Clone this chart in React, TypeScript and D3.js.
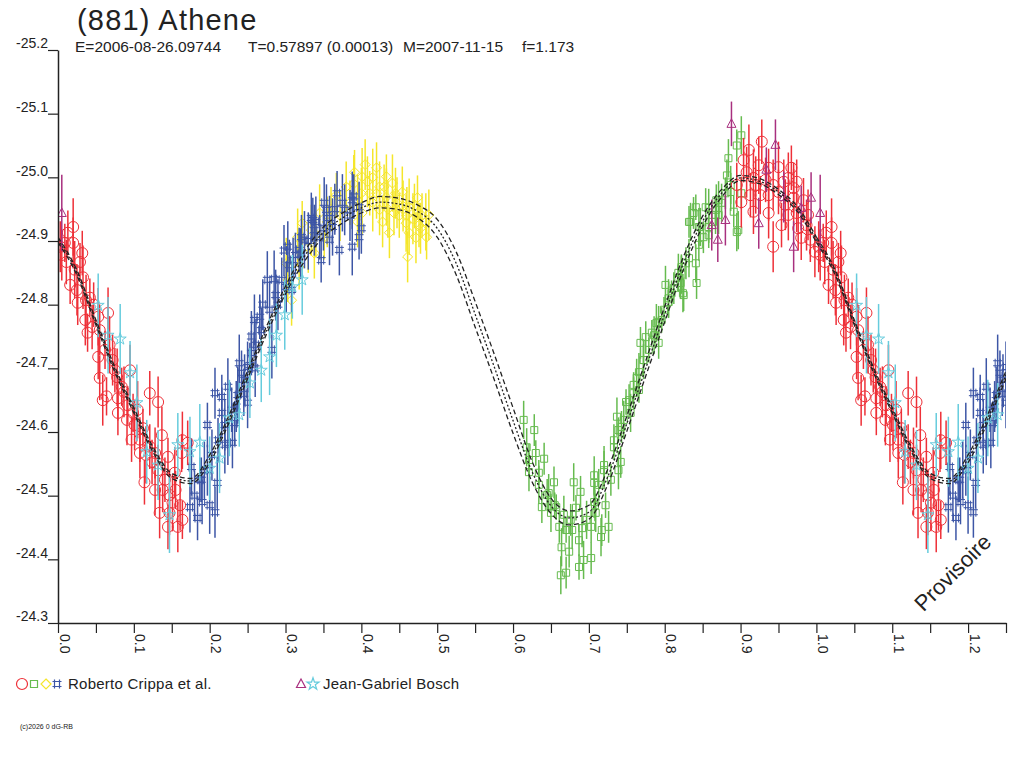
import { useEffect, useRef } from "react";
import * as d3 from "d3";

// phase, reduced magnitude, error
type Pt = [number, number, number];

const redPoints: Pt[] = [
    [0.003, -24.891, 0.04], [0.013, -24.913, 0.035], [0.02, -24.922, 0.045], [0.009, -24.897, 0.03],
    [0.02, -24.897, 0.04], [0.032, -24.881, 0.035], [0.016, -24.831, 0.03], [0.025, -24.823, 0.04],
    [0.033, -24.843, 0.05], [0.026, -24.803, 0.035], [0.042, -24.811, 0.03], [0.036, -24.776, 0.04],
    [0.045, -24.765, 0.035], [0.039, -24.756, 0.03], [0.053, -24.781, 0.045], [0.066, -24.787, 0.04],
    [0.053, -24.718, 0.035], [0.062, -24.729, 0.03], [0.072, -24.713, 0.04], [0.055, -24.685, 0.035],
    [0.059, -24.65, 0.04], [0.064, -24.656, 0.03], [0.078, -24.686, 0.045], [0.079, -24.653, 0.035],
    [0.084, -24.671, 0.03], [0.095, -24.697, 0.04], [0.079, -24.63, 0.035], [0.091, -24.619, 0.04],
    [0.099, -24.63, 0.03], [0.105, -24.635, 0.045], [0.121, -24.661, 0.035], [0.132, -24.647, 0.04],
    [0.097, -24.588, 0.035], [0.112, -24.606, 0.03], [0.108, -24.567, 0.04], [0.121, -24.577, 0.035],
    [0.128, -24.567, 0.04], [0.137, -24.595, 0.045], [0.114, -24.521, 0.035], [0.128, -24.509, 0.04],
    [0.145, -24.561, 0.03], [0.141, -24.525, 0.035], [0.154, -24.536, 0.04], [0.164, -24.587, 0.045],
    [0.171, -24.583, 0.035], [0.163, -24.567, 0.03], [0.134, -24.473, 0.04], [0.145, -24.451, 0.035],
    [0.158, -24.451, 0.04], [0.164, -24.462, 0.03], [0.151, -24.489, 0.045], [0.147, -24.473, 0.035],
    [0.005, -24.878, 0.04], [0.011, -24.867, 0.035], [0.022, -24.855, 0.045], [0.029, -24.867, 0.03],
    [0.037, -24.807, 0.04], [0.047, -24.8, 0.035], [0.055, -24.76, 0.04], [0.068, -24.737, 0.045],
    [0.075, -24.697, 0.035], [0.087, -24.663, 0.04], [0.092, -24.642, 0.03], [0.101, -24.611, 0.04],
    [0.108, -24.588, 0.035], [0.116, -24.564, 0.045], [0.124, -24.553, 0.035], [0.132, -24.54, 0.04],
    [0.138, -24.509, 0.035], [0.147, -24.501, 0.04], [0.155, -24.509, 0.03], [0.161, -24.485, 0.04],
    [0.928, -25.056, 0.035], [0.911, -25.043, 0.04], [0.904, -25.027, 0.035], [0.924, -25.019, 0.045],
    [0.937, -25.015, 0.03], [0.95, -25.016, 0.04], [0.967, -25.015, 0.035], [0.963, -24.999, 0.04],
    [0.974, -24.993, 0.035], [0.917, -24.999, 0.045], [0.913, -24.972, 0.035], [0.901, -24.961, 0.04],
    [0.926, -24.972, 0.03], [0.937, -24.972, 0.04], [0.95, -24.977, 0.035], [0.959, -24.957, 0.04],
    [0.97, -24.968, 0.045], [0.917, -24.946, 0.035], [0.937, -24.944, 0.04], [0.954, -24.925, 0.035],
    [0.974, -24.944, 0.03], [0.943, -24.891, 0.04], [0.976, -24.92, 0.035], [0.998, -24.883, 0.04],
    [0.992, -24.902, 0.035], [0.987, -24.925, 0.04], [0.895, -24.988, 0.035], [0.908, -25.008, 0.04],
    [0.92, -24.988, 0.045], [0.933, -24.996, 0.035], [0.943, -24.988, 0.04], [0.957, -24.993, 0.035],
    [0.97, -24.983, 0.04], [0.983, -24.964, 0.035], [0.989, -24.941, 0.04], [0.98, -24.905, 0.035],
    [0.963, -24.941, 0.04],
];

const greenPoints: Pt[] = [
    [0.614, -24.619, 0.03], [0.628, -24.603, 0.025], [0.618, -24.576, 0.03], [0.63, -24.567, 0.02],
    [0.641, -24.558, 0.025], [0.621, -24.537, 0.03], [0.634, -24.536, 0.02], [0.654, -24.521, 0.025],
    [0.647, -24.504, 0.03], [0.638, -24.482, 0.025], [0.657, -24.482, 0.02], [0.65, -24.473, 0.03],
    [0.661, -24.451, 0.025], [0.67, -24.446, 0.02], [0.664, -24.419, 0.03], [0.674, -24.412, 0.025],
    [0.663, -24.375, 0.03], [0.67, -24.379, 0.025], [0.68, -24.521, 0.03], [0.689, -24.506, 0.025],
    [0.683, -24.481, 0.02], [0.678, -24.446, 0.03], [0.687, -24.43, 0.025], [0.691, -24.449, 0.03],
    [0.703, -24.451, 0.025], [0.693, -24.399, 0.03], [0.703, -24.402, 0.025], [0.687, -24.388, 0.02],
    [0.709, -24.473, 0.03], [0.707, -24.49, 0.025], [0.707, -24.52, 0.02], [0.707, -24.532, 0.03],
    [0.717, -24.446, 0.025], [0.716, -24.435, 0.03], [0.726, -24.451, 0.025], [0.722, -24.485, 0.02],
    [0.72, -24.548, 0.03], [0.729, -24.525, 0.025], [0.733, -24.576, 0.02], [0.739, -24.54, 0.03],
    [0.742, -24.553, 0.025], [0.737, -24.624, 0.03], [0.743, -24.608, 0.025], [0.749, -24.647, 0.02],
    [0.755, -24.63, 0.03], [0.759, -24.661, 0.025], [0.766, -24.666, 0.02], [0.763, -24.685, 0.03],
    [0.768, -24.74, 0.025], [0.772, -24.713, 0.03], [0.775, -24.749, 0.025], [0.783, -24.756, 0.02],
    [0.789, -24.771, 0.03], [0.792, -24.74, 0.025], [0.796, -24.776, 0.02], [0.801, -24.831, 0.03],
    [0.805, -24.804, 0.025], [0.809, -24.818, 0.02], [0.818, -24.85, 0.03], [0.821, -24.834, 0.025],
    [0.822, -24.859, 0.02], [0.824, -24.818, 0.03], [0.828, -24.865, 0.025], [0.841, -24.865, 0.03],
    [0.842, -24.834, 0.025], [0.834, -24.93, 0.03], [0.838, -24.944, 0.025], [0.841, -24.953, 0.02],
    [0.845, -24.922, 0.03], [0.851, -24.906, 0.025], [0.854, -24.953, 0.03], [0.858, -24.922, 0.025],
    [0.867, -24.941, 0.03], [0.868, -24.964, 0.025], [0.875, -24.96, 0.03], [0.88, -24.975, 0.025],
    [0.887, -24.988, 0.03], [0.891, -24.946, 0.025], [0.895, -24.914, 0.03], [0.825, -24.815, 0.025],
    [0.822, -24.847, 0.03], [0.832, -24.93, 0.025], [0.847, -24.922, 0.03], [0.862, -24.93, 0.025],
    [0.858, -24.952, 0.03], [0.868, -24.949, 0.025], [0.871, -24.964, 0.03], [0.882, -25.003, 0.025],
    [0.884, -25.03, 0.03], [0.895, -25.05, 0.025], [0.901, -25.066, 0.03], [0.897, -24.917, 0.03],
    [0.901, -24.975, 0.025], [0.887, -24.977, 0.03], [0.713, -24.517, 0.025], [0.72, -24.54, 0.03],
    [0.733, -24.587, 0.025], [0.739, -24.603, 0.02], [0.746, -24.619, 0.03], [0.753, -24.65, 0.025],
    [0.759, -24.674, 0.02], [0.766, -24.694, 0.03], [0.772, -24.713, 0.025], [0.779, -24.729, 0.02],
    [0.786, -24.752, 0.03], [0.792, -24.773, 0.025], [0.799, -24.792, 0.02], [0.805, -24.81, 0.03],
    [0.812, -24.826, 0.025], [0.818, -24.842, 0.02], [0.832, -24.873, 0.03], [0.845, -24.894, 0.025],
    [0.858, -24.909, 0.02], [0.871, -24.941, 0.03], [0.621, -24.556, 0.025], [0.634, -24.517, 0.03],
    [0.645, -24.501, 0.025], [0.655, -24.485, 0.02], [0.667, -24.47, 0.03], [0.676, -24.462, 0.025],
    [0.697, -24.462, 0.03], [0.708, -24.485, 0.025],
];

const yellowPoints: Pt[] = [
    [0.42, -25.015, 0.04], [0.391, -25.008, 0.035], [0.401, -25.001, 0.045], [0.408, -24.993, 0.04],
    [0.433, -25.001, 0.035], [0.424, -24.985, 0.04], [0.441, -24.991, 0.045], [0.367, -24.972, 0.035],
    [0.395, -24.964, 0.04], [0.411, -24.975, 0.035], [0.433, -24.969, 0.045], [0.454, -24.977, 0.04],
    [0.474, -24.968, 0.035], [0.447, -24.96, 0.04], [0.463, -24.953, 0.045], [0.401, -24.944, 0.035],
    [0.424, -24.949, 0.04], [0.443, -24.944, 0.035], [0.489, -24.941, 0.04], [0.459, -24.928, 0.045],
    [0.476, -24.925, 0.035], [0.437, -24.913, 0.04], [0.463, -24.913, 0.035], [0.472, -24.905, 0.04],
    [0.486, -24.906, 0.035], [0.461, -24.875, 0.04], [0.345, -24.944, 0.045], [0.351, -24.906, 0.035],
    [0.334, -24.917, 0.04], [0.322, -24.928, 0.035], [0.316, -24.906, 0.045], [0.301, -24.865, 0.04],
    [0.318, -24.859, 0.035], [0.338, -24.881, 0.04], [0.303, -24.839, 0.035], [0.308, -24.807, 0.04],
    [0.38, -24.985, 0.04], [0.385, -24.96, 0.035], [0.415, -24.96, 0.045], [0.428, -24.93, 0.04],
    [0.45, -24.94, 0.035], [0.468, -24.935, 0.04], [0.48, -24.94, 0.035], [0.395, -24.93, 0.04],
    [0.36, -24.95, 0.035], [0.372, -24.94, 0.04], [0.39, -24.99, 0.045], [0.4, -24.975, 0.04],
    [0.405, -25.02, 0.04], [0.415, -25.0, 0.045], [0.42, -24.975, 0.04], [0.43, -24.985, 0.035],
    [0.435, -24.95, 0.045], [0.445, -24.975, 0.04], [0.455, -24.955, 0.04], [0.46, -24.94, 0.045],
    [0.47, -24.955, 0.035], [0.478, -24.92, 0.04], [0.485, -24.93, 0.045], [0.33, -24.89, 0.04],
    [0.34, -24.91, 0.035], [0.355, -24.93, 0.04],
];

const bluePoints: Pt[] = [
    [0.174, -24.482, 0.04], [0.184, -24.465, 0.035], [0.2, -24.485, 0.045], [0.207, -24.474, 0.04],
    [0.189, -24.525, 0.035], [0.197, -24.54, 0.04], [0.176, -24.545, 0.045], [0.197, -24.611, 0.035],
    [0.207, -24.661, 0.04], [0.216, -24.655, 0.035], [0.224, -24.671, 0.045], [0.216, -24.63, 0.04],
    [0.233, -24.614, 0.035], [0.23, -24.583, 0.04], [0.224, -24.583, 0.035], [0.239, -24.708, 0.045],
    [0.25, -24.646, 0.04], [0.255, -24.724, 0.035], [0.259, -24.776, 0.04], [0.266, -24.781, 0.035],
    [0.276, -24.839, 0.045], [0.303, -24.891, 0.04], [0.321, -24.906, 0.035], [0.301, -24.828, 0.04],
    [0.308, -24.823, 0.035], [0.282, -24.729, 0.045], [0.25, -24.702, 0.04], [0.242, -24.693, 0.035],
    [0.351, -24.96, 0.04], [0.368, -24.975, 0.035], [0.388, -24.964, 0.045], [0.397, -24.953, 0.04],
    [0.336, -24.933, 0.035], [0.354, -24.949, 0.04], [0.345, -24.906, 0.035], [0.362, -24.922, 0.045],
    [0.298, -24.885, 0.04], [0.318, -24.886, 0.035], [0.334, -24.936, 0.04], [0.397, -24.906, 0.035],
    [0.388, -24.891, 0.045], [0.358, -24.902, 0.04], [0.347, -24.87, 0.035], [0.371, -24.886, 0.04],
    [0.187, -24.525, 0.035], [0.193, -24.54, 0.045], [0.203, -24.564, 0.04], [0.211, -24.587, 0.035],
    [0.22, -24.611, 0.04], [0.229, -24.635, 0.035], [0.237, -24.658, 0.045], [0.246, -24.682, 0.04],
    [0.253, -24.705, 0.035], [0.261, -24.737, 0.04], [0.268, -24.76, 0.035], [0.279, -24.792, 0.045],
    [0.287, -24.815, 0.04], [0.295, -24.839, 0.035], [0.305, -24.862, 0.04], [0.313, -24.878, 0.035],
    [0.325, -24.902, 0.045], [0.338, -24.917, 0.04], [0.358, -24.936, 0.035], [0.378, -24.949, 0.04],
    [0.27, -24.8, 0.04], [0.285, -24.84, 0.045], [0.29, -24.8, 0.04], [0.31, -24.87, 0.035],
    [0.32, -24.88, 0.04], [0.33, -24.9, 0.045], [0.34, -24.93, 0.04], [0.35, -24.92, 0.035],
    [0.365, -24.95, 0.04], [0.375, -24.96, 0.045], [0.385, -24.94, 0.04], [0.39, -24.97, 0.035],
    [0.4, -24.92, 0.04], [0.21, -24.52, 0.04], [0.22, -24.58, 0.045], [0.235, -24.64, 0.04],
    [0.245, -24.66, 0.035], [0.255, -24.75, 0.04], [0.26, -24.7, 0.045], [0.18, -24.5, 0.04],
    [0.19, -24.49, 0.035],
];

const cyanPoints: Pt[] = [
    [0.053, -24.799, 0.05], [0.066, -24.752, 0.06], [0.082, -24.746, 0.055], [0.095, -24.693, 0.05],
    [0.104, -24.646, 0.06], [0.117, -24.569, 0.05], [0.132, -24.548, 0.055], [0.147, -24.47, 0.06],
    [0.158, -24.58, 0.05], [0.174, -24.569, 0.055], [0.187, -24.584, 0.06], [0.2, -24.543, 0.05],
    [0.213, -24.559, 0.055], [0.226, -24.622, 0.06], [0.239, -24.627, 0.05], [0.253, -24.677, 0.055],
    [0.268, -24.697, 0.05], [0.279, -24.718, 0.06], [0.288, -24.752, 0.05], [0.299, -24.784, 0.055],
    [0.309, -24.828, 0.05], [0.322, -24.839, 0.055],
];

const purplePoints: Pt[] = [
    [0.005, -24.944, 0.06], [0.888, -25.084, 0.035], [0.946, -25.051, 0.04], [0.97, -24.891, 0.04],
    [0.862, -24.925, 0.04], [0.87, -24.902, 0.035], [0.88, -24.933, 0.04], [0.924, -24.928, 0.04],
    [0.934, -25.012, 0.035], [0.957, -24.969, 0.04], [0.98, -24.952, 0.035], [0.993, -24.968, 0.04],
];

// model light curve (central fit and its two bounds)
const modelPhase = [
    0, 0.025, 0.05, 0.075, 0.1, 0.125, 0.15, 0.175, 0.2, 0.225, 0.25, 0.275, 0.3, 0.325, 0.35, 0.375,
    0.4, 0.425, 0.45, 0.475, 0.5, 0.525, 0.55, 0.575, 0.6, 0.625, 0.65, 0.675, 0.7, 0.725, 0.75, 0.775,
    0.8, 0.825, 0.85, 0.875, 0.9, 0.925, 0.95, 0.975, 1,
];
const modelMid = [
    -24.902, -24.85, -24.772, -24.698, -24.634, -24.573, -24.531, -24.523, -24.558, -24.619, -24.69,
    -24.76, -24.823, -24.876, -24.914, -24.936, -24.952, -24.961, -24.958, -24.946, -24.92, -24.865,
    -24.785, -24.703, -24.618, -24.538, -24.484, -24.465, -24.474, -24.53, -24.613, -24.7, -24.785,
    -24.866, -24.931, -24.975, -24.999, -24.994, -24.977, -24.95, -24.902,
];
const modelUpper = [
    -24.906, -24.854, -24.776, -24.702, -24.638, -24.577, -24.535, -24.527, -24.564, -24.625, -24.696,
    -24.766, -24.829, -24.884, -24.922, -24.944, -24.96, -24.97, -24.967, -24.956, -24.934, -24.883,
    -24.805, -24.723, -24.638, -24.554, -24.496, -24.476, -24.485, -24.542, -24.625, -24.712, -24.797,
    -24.876, -24.939, -24.981, -25.003, -24.998, -24.981, -24.954, -24.906,
];
const modelLower = [
    -24.898, -24.846, -24.768, -24.694, -24.63, -24.569, -24.527, -24.519, -24.552, -24.613, -24.684,
    -24.754, -24.817, -24.868, -24.906, -24.928, -24.944, -24.952, -24.949, -24.936, -24.906, -24.847,
    -24.765, -24.683, -24.598, -24.522, -24.472, -24.454, -24.463, -24.518, -24.601, -24.688, -24.773,
    -24.856, -24.923, -24.969, -24.995, -24.99, -24.973, -24.946, -24.898,
];

const yTicks = [-25.2, -25.1, -25.0, -24.9, -24.8, -24.7, -24.6, -24.5, -24.4, -24.3];
const xTicks = [
    0, 0.05, 0.1, 0.15, 0.2, 0.25, 0.3, 0.35, 0.4, 0.45, 0.5, 0.55, 0.6, 0.65, 0.7, 0.75, 0.8, 0.85,
    0.9, 0.95, 1.0, 1.05, 1.1, 1.15, 1.2, 1.25,
];

const FONT = "'Liberation Sans', Arial, sans-serif";
const INK = "#222222";

const shapes: Record<string, string> = {
    circle: d3.symbol(d3.symbolCircle, 95)() || "",
    square: "M-3.5,-3.5H3.5V3.5H-3.5Z",
    diamond: "M0,-5L5,0L0,5L-5,0Z",
    hash: "M-4.5,-2.5H4.5M-4.5,2.5H4.5M-2.5,-4.5V4.5M2.5,-4.5V4.5",
    triangle: "M0,-5L4.5,3.5H-4.5Z",
    star: d3.symbol(d3.symbolStar, 45)() || "",
};

export default function App() {
    const svgRef = useRef<SVGSVGElement | null>(null);

    useEffect(() => {
        if (!svgRef.current) return;
        d3.select(svgRef.current).selectAll("*").remove();

        const svg = d3.select(svgRef.current);
        const x = d3.scaleLinear().domain([0, 1.25]).range([58, 1006]);
        const y = d3.scaleLinear().domain([-25.2, -24.3]).range([50, 623]);

        svg.append("rect").attr("width", 1024).attr("height", 768).attr("fill", "#fff");

        svg.append("clipPath")
            .attr("id", "plotClip")
            .append("rect")
            .attr("x", 58)
            .attr("y", 40)
            .attr("width", 948)
            .attr("height", 590);

        const plot = svg.append("g").attr("clip-path", "url(#plotClip)");

        // phases below 0.25 are repeated after 1.0
        const wrap = (pts: Pt[]): Pt[] =>
            pts.flatMap((p) => (p[0] <= 0.25 ? [p, [p[0] + 1, p[1], p[2]] as Pt] : [p]));

        const drawGroup = (pts: Pt[], color: string, shape: string) => {
            const g = plot.append("g");
            const data = wrap(pts);
            g.selectAll("line")
                .data(data)
                .enter()
                .append("line")
                .attr("x1", (d) => x(d[0]))
                .attr("x2", (d) => x(d[0]))
                .attr("y1", (d) => y(d[1] - d[2]))
                .attr("y2", (d) => y(d[1] + d[2]))
                .attr("stroke", color)
                .attr("stroke-width", 1.5);
            g.selectAll("path")
                .data(data)
                .enter()
                .append("path")
                .attr("d", shapes[shape])
                .attr("transform", (d) => `translate(${x(d[0])},${y(d[1])})`)
                .attr("fill", "none")
                .attr("stroke", color)
                .attr("stroke-width", 1);
        };

        drawGroup(yellowPoints, "#f5e62a", "diamond");
        drawGroup(bluePoints, "#3d56a6", "hash");
        drawGroup(greenPoints, "#66bb4f", "square");
        drawGroup(redPoints, "#ee3038", "circle");
        drawGroup(cyanPoints, "#66ccdd", "star");
        drawGroup(purplePoints, "#a8307f", "triangle");

        // model curves, drawn over 0..1 and again over 1..1.25
        const line = d3
            .line<[number, number]>()
            .x((d) => x(d[0]))
            .y((d) => y(d[1]))
            .curve(d3.curveMonotoneX);
        const curves: [number[], string][] = [
            [modelUpper, "5,3"],
            [modelMid, "2,2"],
            [modelLower, "5,3"],
        ];
        curves.forEach(([mags, dash]) => {
            const pts: [number, number][] = modelPhase.map((p, i) => [p, mags[i]]);
            const rep: [number, number][] = modelPhase
                .map((p, i) => [p + 1, mags[i]] as [number, number])
                .filter((d) => d[0] <= 1.3);
            [pts, rep].forEach((seg) =>
                plot.append("path")
                    .attr("d", line(seg) || "")
                    .attr("fill", "none")
                    .attr("stroke", INK)
                    .attr("stroke-width", 1.3)
                    .attr("stroke-dasharray", dash)
            );
        });

        // Y axis
        const yAxis = svg.append("g")
            .attr("transform", "translate(58,0)")
            .call(
                d3.axisLeft(y)
                    .tickValues(yTicks)
                    .tickSize(10)
                    .tickSizeOuter(0)
                    .tickPadding(0)
                    .tickFormat((d) => (d as number).toFixed(1))
            );
        yAxis.select(".domain").attr("stroke", INK).attr("stroke-width", 1.5);
        yAxis.selectAll(".tick line").attr("stroke", INK).attr("stroke-width", 1.2);
        yAxis.selectAll("text")
            .attr("font-family", FONT)
            .attr("font-size", 14)
            .attr("fill", INK)
            .attr("dy", "-0.15em");

        // X axis
        const xAxis = svg.append("g")
            .attr("transform", "translate(0,623)")
            .call(
                d3.axisBottom(x)
                    .tickValues(xTicks)
                    .tickSize(10)
                    .tickSizeOuter(0)
                    .tickFormat((d) => {
                        const v = d as number;
                        return Math.round(v * 100) % 10 === 0 ? v.toFixed(1) : "";
                    })
            );
        xAxis.select(".domain").attr("stroke", INK).attr("stroke-width", 1.5);
        xAxis.selectAll(".tick line").attr("stroke", INK).attr("stroke-width", 1.2);
        xAxis.selectAll("text")
            .attr("font-family", FONT)
            .attr("font-size", 14)
            .attr("fill", INK)
            .attr("transform", "rotate(90)")
            .attr("x", 11)
            .attr("y", -1)
            .attr("dy", "0")
            .attr("text-anchor", "start");

        // titles
        svg.append("text")
            .attr("x", 77)
            .attr("y", 30)
            .attr("font-family", FONT)
            .attr("font-size", 29)
            .attr("letter-spacing", 1.2)
            .attr("fill", INK)
            .text("(881) Athene");

        const subtitle: [number, string][] = [
            [75, "E=2006-08-26.09744"],
            [248, "T=0.57897 (0.00013)"],
            [403, "M=2007-11-15"],
            [522, "f=1.173"],
        ];
        svg.selectAll(".sub")
            .data(subtitle)
            .enter()
            .append("text")
            .attr("class", "sub")
            .attr("x", (d) => d[0])
            .attr("y", 52)
            .attr("font-family", FONT)
            .attr("font-size", 15.5)
            .attr("fill", INK)
            .text((d) => d[1]);

        // legend
        const legendSymbols: [number, string, string][] = [
            [22, "circle", "#ee3038"],
            [34, "square", "#66bb4f"],
            [46, "diamond", "#f5e62a"],
            [57, "hash", "#3d56a6"],
            [301, "triangle", "#a8307f"],
            [313, "star", "#66ccdd"],
        ];
        svg.selectAll(".leg")
            .data(legendSymbols)
            .enter()
            .append("path")
            .attr("class", "leg")
            .attr("d", (d) => shapes[d[1]])
            .attr("transform", (d) => `translate(${d[0]},684)`)
            .attr("fill", "none")
            .attr("stroke", (d) => d[2])
            .attr("stroke-width", 1.2);

        const legendText: [number, string][] = [
            [68, "Roberto Crippa et al."],
            [323, "Jean-Gabriel Bosch"],
        ];
        svg.selectAll(".legt")
            .data(legendText)
            .enter()
            .append("text")
            .attr("class", "legt")
            .attr("x", (d) => d[0])
            .attr("y", 689)
            .attr("font-family", FONT)
            .attr("font-size", 15)
            .attr("letter-spacing", 0.25)
            .attr("fill", INK)
            .text((d) => d[1]);

        svg.append("text")
            .attr("x", 20)
            .attr("y", 729)
            .attr("font-family", FONT)
            .attr("font-size", 7)
            .attr("fill", INK)
            .text("(c)2026 0 dG-RB");

        svg.append("text")
            .attr("transform", "translate(958,578) rotate(-45)")
            .attr("text-anchor", "middle")
            .attr("font-family", FONT)
            .attr("font-size", 22)
            .attr("fill", INK)
            .text("Provisoire");
    }, []);

    return (
        <svg
            ref={svgRef}
            width={1024}
            height={768}
            style={{ position: "absolute", left: 0, top: 0 }}
        />
    );
}
